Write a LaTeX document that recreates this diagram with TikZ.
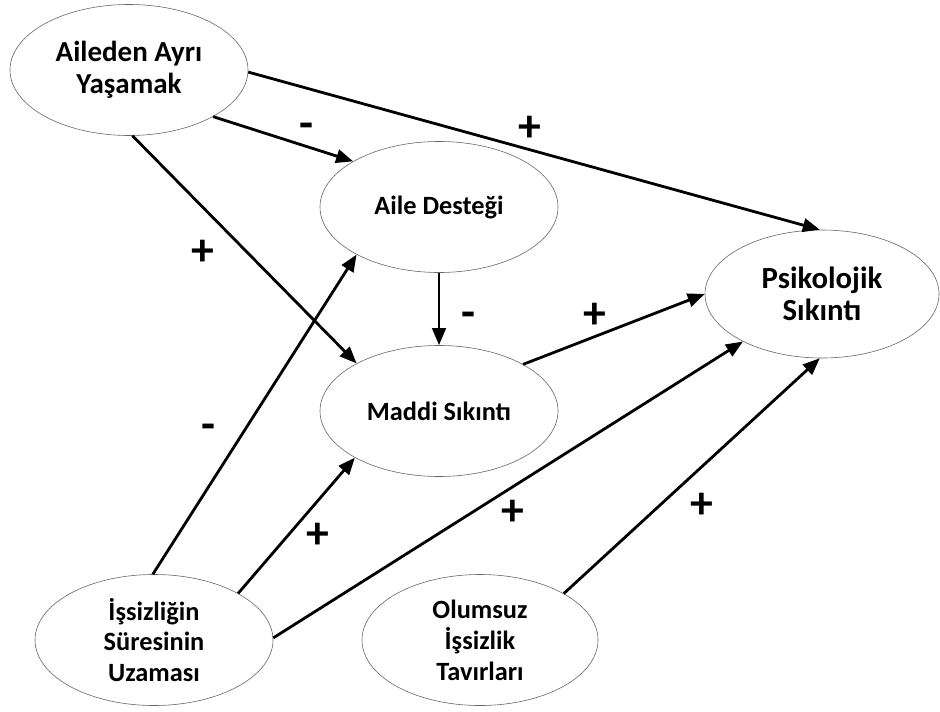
\documentclass[tikz,border=0pt]{standalone}
\usepackage{fontspec}
\setmainfont{Carlito}
\usetikzlibrary{shapes.geometric,arrows.meta}
\begin{document}
\begin{tikzpicture}[
    factor/.style={ellipse, draw=black!60, line width=0.012cm, minimum width=4.76cm,
                   minimum height=2.62cm, inner sep=0pt, align=center,
                   font=\fontsize{15}{17.6}\selectfont\bfseries},
    big/.style={font=\fontsize{#1}{18}\selectfont\bfseries},
    path/.style={line width=0.056cm, -{Triangle[length=0.34cm,width=0.27cm]}},
    sign/.style={font=\fontsize{26}{26}\selectfont\bfseries, inner sep=0pt}]
    \useasboundingbox (0,0) rectangle (18.8,14.22);

    % Drawing the factors
    \node [factor, big=16.5] (ayri) at (2.58,12.82) {Aileden Ayrı\\Yaşamak};
    \node [factor] (destek) at (8.78,10.08) {Aile Desteği};
    \node [factor, big=17.5, minimum width=4.68cm, minimum height=2.56cm] (psiko) at (16.44,8.34) {Psikolojik\\Sıkıntı};
    \node [factor] (maddi) at (8.78,6.00) {Maddi Sıkıntı};
    \node [factor] (sure) at (3.08,1.42) {İşsizliğin\\Süresinin\\Uzaması};
    \node [factor, minimum width=4.72cm] (tavir) at (9.60,1.42) {Olumsuz\\İşsizlik\\Tavırları};

    % Drawing the paths
    \draw [path] (ayri.-1) -- (psiko.92);
    \draw [path] (ayri.-29) -- (destek.152);
    \draw [path] (ayri.-87) -- (maddi.150);
    \draw [path] (destek.south) -- (maddi.north);
    \draw [path] (maddi.29) -- (psiko.180);
    \draw [path] (sure.91) -- (destek.210);
    \draw [path] (sure.29) -- (maddi.209);
    \draw [path] (sure.1) -- (psiko.211);
    \draw [path] (tavir.29) -- (psiko.268);

    % Marking the signs
    \node [sign] (s1) at (10.60,11.64) {+};
    \node [sign] (s2) at (6.12,11.60) {-};
    \node [sign] (s3) at (4.06,9.16) {+};
    \node [sign] (s4) at (9.36,7.82) {-};
    \node [sign] (s5) at (11.90,7.90) {+};
    \node [sign] (s6) at (4.16,5.58) {-};
    \node [sign] (s7) at (6.36,3.50) {+};
    \node [sign] (s8) at (10.26,3.96) {+};
    \node [sign] (s9) at (14.04,4.10) {+};
\end{tikzpicture}
\end{document}
